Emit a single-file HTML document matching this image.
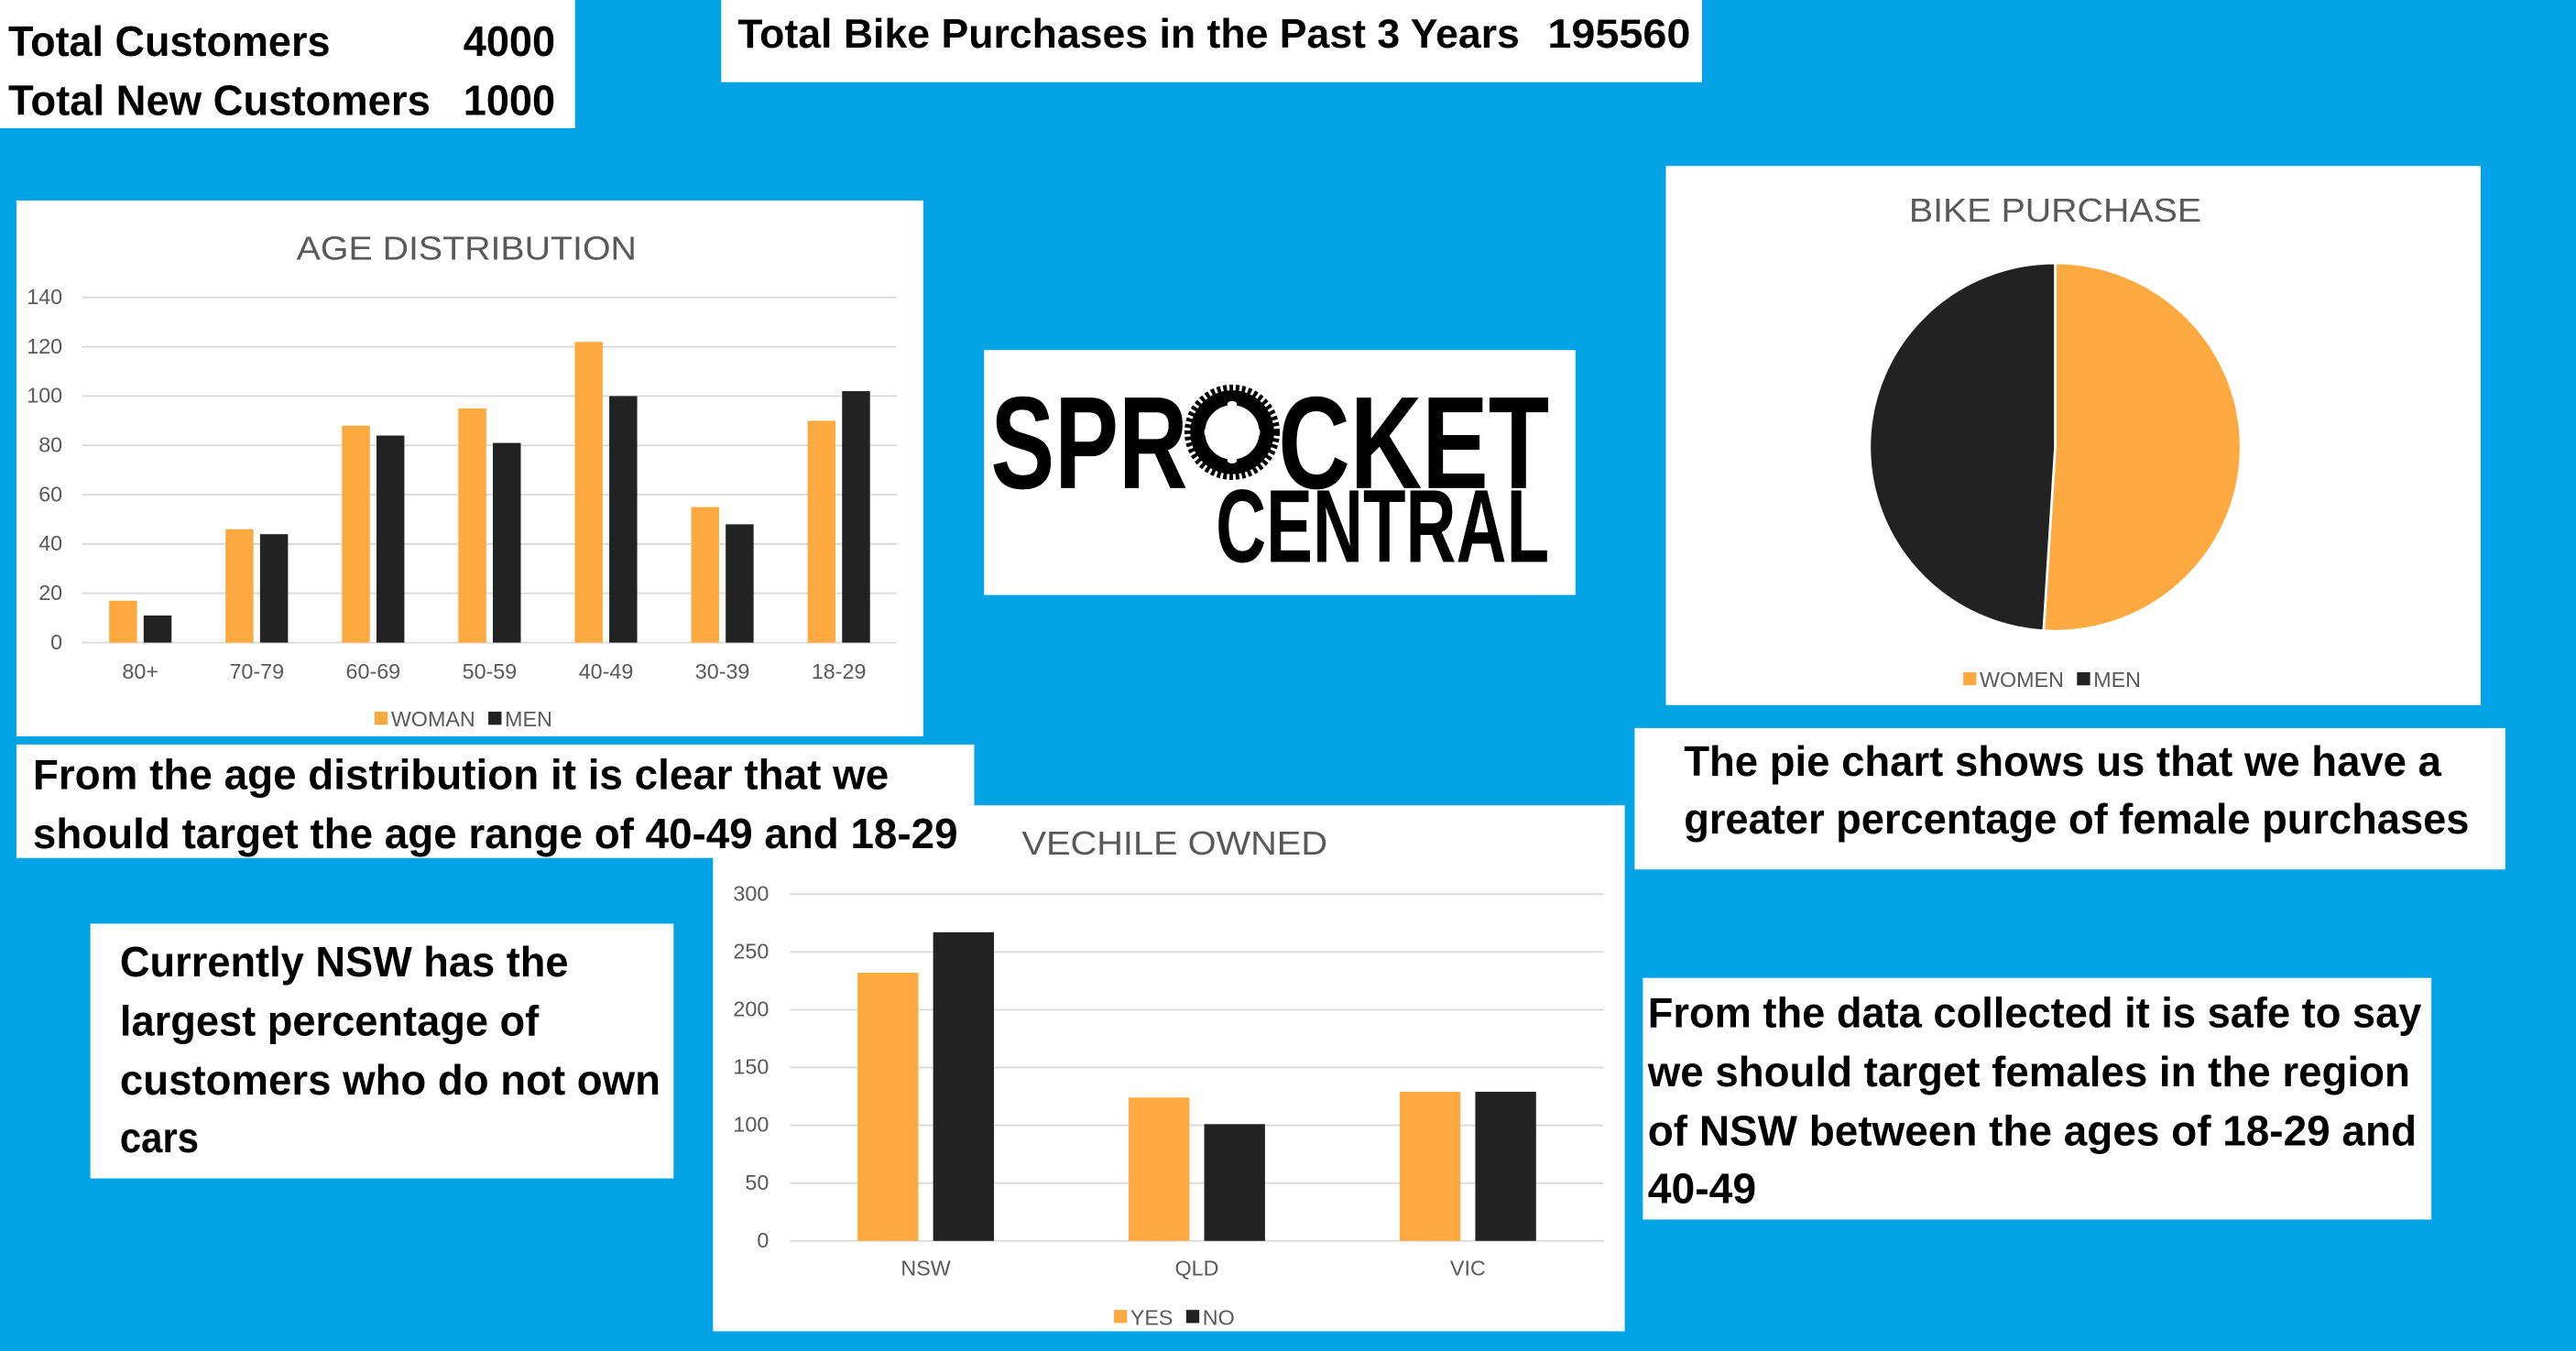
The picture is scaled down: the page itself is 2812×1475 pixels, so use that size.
<!DOCTYPE html>
<html><head><meta charset="utf-8"><style>
html,body{margin:0;padding:0;width:2812px;height:1475px;overflow:hidden;background:#03A3E6;}
svg{display:block;}
.b{font-family:"Liberation Sans",sans-serif;font-weight:bold;fill:#000;}
.ax{font-family:"Liberation Sans",sans-serif;fill:#595959;font-size:13px;}
.tt{font-family:"Liberation Sans",sans-serif;fill:#595959;font-size:20px;}
</style></head><body>
<svg id="s" width="2812" height="1475" viewBox="0 0 1568 822" preserveAspectRatio="none" xmlns="http://www.w3.org/2000/svg">
<rect width="1568" height="822" fill="#03A3E6"/>
<g>
<rect x="0" y="0" width="350" height="78" fill="#fff"/>
<text class="b" x="5" y="34" font-size="26" textLength="196" lengthAdjust="spacingAndGlyphs">Total Customers</text>
<text class="b" x="282" y="34" font-size="26" textLength="56" lengthAdjust="spacingAndGlyphs">4000</text>
<text class="b" x="5" y="70" font-size="26" textLength="257" lengthAdjust="spacingAndGlyphs">Total New Customers</text>
<text class="b" x="282" y="70" font-size="26" textLength="56" lengthAdjust="spacingAndGlyphs">1000</text>
</g>
<g>
<rect x="439" y="0" width="597" height="50" fill="#fff"/>
<text class="b" x="449" y="29" font-size="25" textLength="476" lengthAdjust="spacingAndGlyphs">Total Bike Purchases in the Past 3 Years</text>
<text class="b" x="942" y="29" font-size="25" textLength="87" lengthAdjust="spacingAndGlyphs">195560</text>
</g>
<g id="age">
<rect x="10" y="122" width="552" height="326" fill="#fff"/>
<text class="tt" x="284" y="158" text-anchor="middle" textLength="207" lengthAdjust="spacingAndGlyphs">AGE DISTRIBUTION</text>
</g>
<g>
<rect x="599" y="213" width="360" height="149" fill="#fff"/>
<text class="b" x="603" y="297" font-size="80" textLength="120" lengthAdjust="spacingAndGlyphs">SPR</text>
<text class="b" x="778" y="297" font-size="80" textLength="165" lengthAdjust="spacingAndGlyphs">CKET</text>
<text class="b" x="740" y="342" font-size="63" textLength="203" lengthAdjust="spacingAndGlyphs">CENTRAL</text>
<g>
<circle cx="750" cy="263" r="27" fill="none" stroke="#000" stroke-width="4" stroke-dasharray="2.2 1.6"/>
<circle cx="750" cy="263" r="21" fill="none" stroke="#000" stroke-width="9"/>
<ellipse cx="750" cy="263" rx="12" ry="16" fill="#fff"/>
<g fill="#fff"><ellipse cx="750" cy="246" rx="3" ry="2"/><ellipse cx="750" cy="280" rx="3" ry="2"/><ellipse cx="735" cy="263" rx="2" ry="3"/><ellipse cx="765" cy="263" rx="2" ry="3"/></g>
</g>
</g>
<g id="pie">
<rect x="1014" y="101" width="496" height="328" fill="#fff"/>
<text class="tt" x="1251" y="135" text-anchor="middle" textLength="178" lengthAdjust="spacingAndGlyphs">BIKE PURCHASE</text>
</g>
<g>
<rect x="995" y="443" width="530" height="86" fill="#fff"/>
<text class="b" x="1025" y="472" font-size="26" textLength="461" lengthAdjust="spacingAndGlyphs">The pie chart shows us that we have a</text>
<text class="b" x="1025" y="507" font-size="26" textLength="478" lengthAdjust="spacingAndGlyphs">greater percentage of female purchases</text>
</g>
<g id="veh">
<rect x="434" y="490" width="555" height="320" fill="#fff"/>
<text class="tt" x="715" y="520" text-anchor="middle" textLength="186" lengthAdjust="spacingAndGlyphs">VECHILE OWNED</text>
</g>
<g>
<rect x="10" y="453" width="583" height="69" fill="#fff"/>
<text class="b" x="20" y="480" font-size="26" textLength="521" lengthAdjust="spacingAndGlyphs">From the age distribution it is clear that we</text>
<text class="b" x="20" y="516" font-size="26" textLength="563" lengthAdjust="spacingAndGlyphs">should target the age range of 40-49 and 18-29</text>
</g>
<g>
<rect x="55" y="562" width="355" height="155" fill="#fff"/>
<text class="b" x="73" y="594" font-size="26" textLength="273" lengthAdjust="spacingAndGlyphs">Currently NSW has the</text>
<text class="b" x="73" y="630" font-size="26" textLength="255" lengthAdjust="spacingAndGlyphs">largest percentage of</text>
<text class="b" x="73" y="666" font-size="26" textLength="329" lengthAdjust="spacingAndGlyphs">customers who do not own</text>
<text class="b" x="73" y="701" font-size="26" textLength="48" lengthAdjust="spacingAndGlyphs">cars</text>
</g>
<g>
<rect x="1000" y="595" width="480" height="147" fill="#fff"/>
<text class="b" x="1003" y="625" font-size="26" textLength="471" lengthAdjust="spacingAndGlyphs">From the data collected it is safe to say</text>
<text class="b" x="1003" y="661" font-size="26" textLength="464" lengthAdjust="spacingAndGlyphs">we should target females in the region</text>
<text class="b" x="1003" y="697" font-size="26" textLength="468" lengthAdjust="spacingAndGlyphs">of NSW between the ages of 18-29 and</text>
<text class="b" x="1003" y="732" font-size="26" textLength="66" lengthAdjust="spacingAndGlyphs">40-49</text>
</g>
</svg>
<script>
const ageCats = ["80+","70-79","60-69","50-59","40-49","30-39","18-29"];
const ageWoman = [17,46,88,95,122,55,90];
const ageMen = [11,44,84,81,100,48,102];
const ageTicks = [0,20,40,60,80,100,120,140];
const vehCats = ["NSW","QLD","VIC"];
const vehYes = [232,124,129];
const vehNo = [267,101,129];
const vehTicks = [0,50,100,150,200,250,300];
const pieLabels = ["WOMEN","MEN"];
const pieValues = [51,49];

const NS="http://www.w3.org/2000/svg";
const OR="#FFAA40", BK="#222222";
function mk(parent,tag,attrs){const e=document.createElementNS(NS,tag);for(const k in attrs)e.setAttribute(k,attrs[k]);parent.appendChild(e);return e;}

function barChart(g,o){
  const y=v=>o.y0-(v-o.min)/(o.max-o.min)*(o.y0-o.y1);
  o.ticks.forEach(t=>{
    const l=mk(g,'line',{x1:o.x0,x2:o.x1,y1:y(t),y2:y(t),stroke:'#d9d9d9','stroke-width':1});
    
    
    const tx=mk(g,'text',{x:o.lx,y:y(t)+4,'text-anchor':'end',class:'ax'});tx.textContent=t;
    
    
  });
  const step=(o.x1-o.x0)/o.cats.length;
  o.cats.forEach((c,i)=>{
    const cx=o.x0+step*(i+0.5);
    const a=mk(g,'rect',{x:cx-o.gap/2-o.bw,y:y(o.s1[i]),width:o.bw,height:y(0)-y(o.s1[i]),fill:OR});
    
    
    const b=mk(g,'rect',{x:cx+o.gap/2,y:y(o.s2[i]),width:o.bw,height:y(0)-y(o.s2[i]),fill:BK});
    
    
    const tx=mk(g,'text',{x:cx,y:o.catY,'text-anchor':'middle',class:'ax'});tx.textContent=c;
    
    
  });
  legend(g,o.legX,o.legY,[o.n1,o.n2]);
}
function legend(g,x,yy,labels){
  let cx=x;
  labels.forEach((l,i)=>{
    const r=mk(g,'rect',{x:cx,y:yy-9,width:8,height:8,fill:i?BK:OR});
    
    
    const t=mk(g,'text',{x:cx+10,y:yy,class:'ax'});t.textContent=l;
    
    
    cx+=10+t.getComputedTextLength()+8;
  });
}
barChart(document.getElementById('age'),{cats:ageCats,s1:ageWoman,s2:ageMen,n1:'WOMAN',n2:'MEN',ticks:ageTicks,min:0,max:140,x0:50,x1:546,y0:391,y1:181,lx:38,bw:17,gap:4,catY:413,legX:228,legY:442});
barChart(document.getElementById('veh'),{cats:vehCats,s1:vehYes,s2:vehNo,n1:'YES',n2:'NO',ticks:vehTicks,min:0,max:300,x0:481,x1:976,y0:755,y1:544,lx:468,bw:37,gap:9,catY:776,legX:678,legY:806});

(function(){
  const g=document.getElementById('pie');
  const cx=1251,cy=272,rx=113,ry=112;
  const tot=pieValues.reduce((a,b)=>a+b,0);
  let ang=-Math.PI/2;
  pieValues.forEach((v,i)=>{
    const a2=ang+v/tot*2*Math.PI;
    const x1=cx+rx*Math.cos(ang),y1=cy+ry*Math.sin(ang),x2=cx+rx*Math.cos(a2),y2=cy+ry*Math.sin(a2);
    const large=(a2-ang)>Math.PI?1:0;
    const p=mk(g,'path',{d:`M${cx},${cy} L${x1},${y1} A${rx},${ry} 0 ${large} 1 ${x2},${y2} Z`,fill:i?BK:OR,stroke:'#fff','stroke-width':1.5});
    
    
    ang=a2;
  });
  legend(g,1195,418,pieLabels);
})();
</script>
</body></html>
